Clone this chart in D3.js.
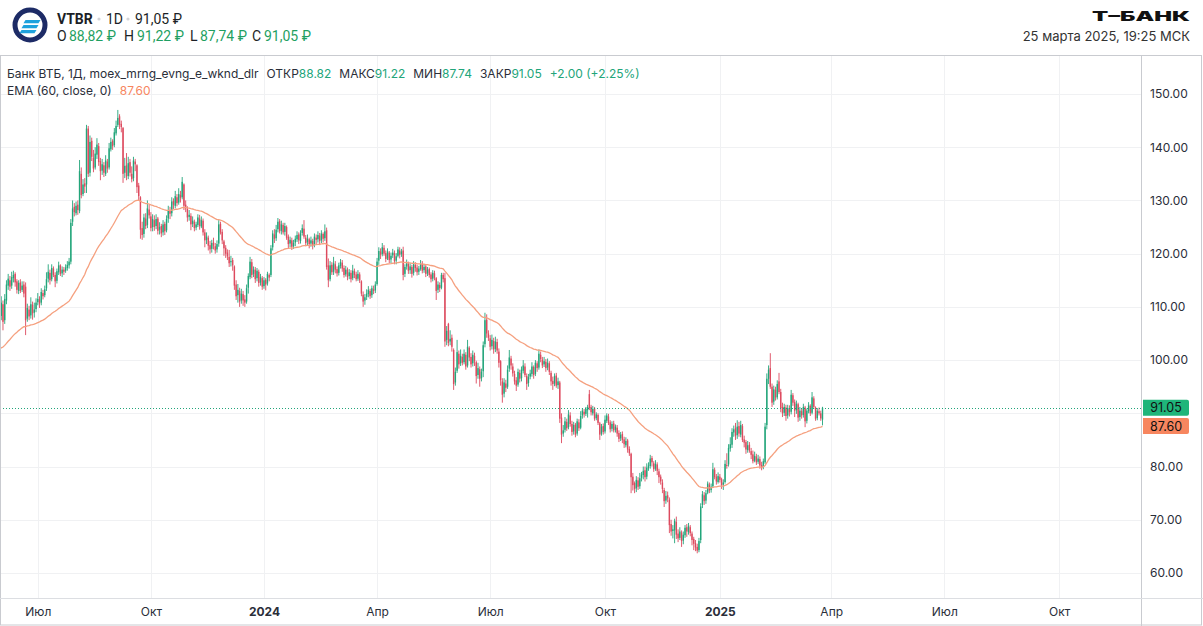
<!DOCTYPE html>
<html lang="ru">
<head>
<meta charset="utf-8">
<title>VTBR 1D</title>
<script src="https://cdn.jsdelivr.net/npm/d3@7"></script>
<style>
  body { margin: 0; background: #fff; }
  svg text { font-family: Inter, "Noto Sans", sans-serif; }
</style>
</head>
<body>
<svg id="chart" width="1203" height="626"></svg>
<script>
// ---- data: daily bars, Jun 2023 .. 25 Mar 2025 (weekdays) ----
const open = [
109.8,108.3,110.5,107.5,111.2,114.0,115.0,114.0,115.4,116.2,
114.8,113.0,114.6,113.2,114.2,113.8,107.8,109.5,108.4,110.4,
108.9,109.6,110.9,111.4,110.8,112.6,112.2,113.5,115.3,116.4,
115.2,117.2,116.0,114.9,116.5,117.8,116.3,117.0,116.8,117.3,
117.8,118.5,126.0,128.8,127.6,129.2,128.0,135.0,131.2,133.2,
133.0,143.5,135.2,141.2,138.0,136.2,138.6,140.2,137.4,135.6,
136.6,135.0,137.3,136.2,139.6,141.2,140.4,142.6,144.2,145.8,
144.4,143.6,135.2,136.6,134.6,137.2,135.0,134.2,137.3,136.6,
132.8,130.6,124.8,123.7,126.6,125.4,128.3,127.0,125.0,126.3,
125.2,126.6,124.5,125.2,124.0,125.6,124.4,126.6,128.0,127.6,
129.9,129.0,130.6,129.6,131.0,130.6,133.0,129.2,128.4,126.9,
127.1,125.6,126.0,124.9,125.4,126.6,125.1,126.2,124.0,122.6,
123.0,121.6,120.9,122.1,121.4,120.8,121.9,125.6,124.1,122.3,
121.1,120.2,119.4,118.4,118.8,117.6,114.2,112.2,113.0,111.2,
112.4,111.4,111.0,113.6,115.6,118.4,116.2,117.0,115.4,116.6,
114.6,115.4,113.9,115.1,114.4,116.0,116.0,121.2,123.6,122.9,
124.6,126.1,124.3,125.4,124.1,125.0,123.2,121.9,122.5,121.4,
122.1,122.7,123.6,122.4,123.9,124.7,123.0,122.2,122.7,121.9,
122.4,121.6,123.0,122.7,123.4,122.5,123.7,122.9,124.4,117.8,
115.2,117.9,116.6,118.0,117.1,116.4,117.7,118.3,117.3,116.1,
117.0,115.8,116.4,115.4,116.7,116.1,115.3,116.1,114.8,112.3,
111.2,111.9,112.4,113.0,112.2,113.3,113.1,114.3,118.7,120.4,
119.9,121.1,120.1,119.1,120.2,118.9,119.7,120.1,118.7,119.6,
120.6,119.9,120.6,116.2,117.6,118.1,116.9,117.5,116.4,117.9,
117.4,116.6,117.1,118.1,116.9,117.6,116.3,117.1,116.1,115.3,
116.3,115.4,113.2,114.1,113.6,116.0,115.4,103.8,106.8,103.5,
104.2,101.9,95.8,98.0,101.2,99.4,100.6,99.6,101.0,99.0,
102.3,100.6,99.4,100.8,99.6,97.2,98.3,96.6,97.9,103.0,
107.6,105.0,104.1,102.6,103.6,102.1,103.4,101.6,99.8,96.0,
93.7,95.6,95.0,98.4,100.3,98.8,97.4,96.2,95.4,97.6,
96.6,98.0,98.8,97.0,95.7,96.9,97.4,98.7,97.4,99.4,
98.6,101.0,100.1,99.2,99.7,98.6,99.4,97.6,96.1,95.6,
97.1,95.3,95.8,89.2,86.2,86.9,88.4,87.4,89.6,88.0,
86.6,87.9,86.2,88.3,87.3,89.6,90.3,89.9,90.6,93.6,
91.2,90.0,90.9,89.1,89.7,88.1,86.2,87.6,86.6,88.6,
89.4,88.3,87.1,88.1,86.9,87.3,86.3,85.3,86.1,85.1,
84.0,84.9,83.3,82.4,78.1,76.9,75.9,77.4,76.3,77.9,
78.4,79.3,78.1,79.7,80.1,81.6,80.6,79.6,80.4,79.1,
78.1,77.0,75.6,73.6,74.6,73.8,69.2,67.9,68.0,69.6,
67.4,66.6,67.6,66.1,67.1,68.6,67.7,68.6,67.4,66.4,
65.6,64.9,64.3,66.2,72.8,74.6,73.6,75.1,76.6,75.6,
76.3,79.4,78.1,77.1,78.1,77.6,76.6,77.1,80.3,80.4,
83.4,84.1,86.4,87.2,85.9,87.6,86.0,87.6,85.1,84.6,
83.1,84.1,82.9,82.3,81.1,81.9,80.9,81.4,80.3,79.9,
80.8,87.8,96.5,98.5,95.0,92.2,94.4,93.0,96.0,94.0,
91.2,90.1,91.1,89.6,90.9,90.3,93.4,92.1,90.6,91.7,
89.3,90.4,89.7,91.1,88.6,90.4,91.4,90.1,92.8,91.1,
89.1,90.4,90.0,88.82
];
const high = [
111.5,112.0,111.2,112.4,115.0,116.2,115.8,116.6,116.8,116.5,
115.2,115.0,115.2,114.8,114.8,114.6,110.6,110.2,111.8,111.0,
110.8,111.6,112.6,112.0,113.5,113.2,114.0,116.5,118.0,117.0,
118.0,117.6,116.5,117.2,118.5,118.0,117.6,117.5,118.0,118.6,
119.2,126.5,130.0,129.5,129.8,130.0,137.6,136.2,134.0,134.2,
144.2,144.0,142.2,141.8,139.5,140.0,141.7,140.8,138.0,137.8,
137.2,138.5,137.8,140.8,141.8,141.5,143.6,145.0,147.0,146.2,
145.0,143.8,138.0,138.9,138.2,137.8,136.4,138.2,137.8,136.8,
133.3,130.8,126.0,127.5,127.6,130.0,129.2,127.8,127.4,127.2,
127.4,126.9,125.9,125.6,126.3,126.0,127.2,129.0,128.8,130.6,
130.4,131.8,131.2,132.3,131.8,134.4,133.2,130.0,128.9,128.2,
127.6,127.0,126.4,126.0,127.4,127.3,127.0,126.6,124.6,124.0,
123.4,122.4,122.6,123.0,122.0,122.5,126.3,126.0,124.6,122.6,
121.6,120.8,120.7,119.6,119.2,117.8,115.0,114.3,113.6,113.4,
113.0,112.2,114.2,116.3,119.4,119.0,117.6,117.5,117.3,117.0,
116.2,115.8,115.6,115.4,116.6,116.3,121.6,124.4,124.6,125.4,
126.7,126.5,126.2,125.8,125.8,125.3,123.6,123.2,123.0,122.6,
123.4,124.2,124.0,124.4,125.5,126.3,123.5,123.6,123.0,123.2,
122.8,123.8,123.6,124.2,123.9,124.4,124.0,125.5,124.9,119.1,
118.6,118.4,119.4,118.6,117.6,118.3,119.0,118.8,117.8,117.7,
117.4,117.1,116.9,117.9,117.2,116.6,116.9,116.5,115.0,112.9,
112.4,113.3,113.9,113.4,114.0,114.0,114.8,119.2,121.2,121.0,
122.0,121.6,120.6,121.0,120.5,120.2,120.9,120.6,120.1,121.3,
121.2,120.9,121.3,118.0,118.9,118.5,118.2,117.9,118.6,118.4,
117.9,117.7,118.8,118.6,118.0,117.9,117.5,117.4,116.5,116.9,
116.8,115.6,114.8,114.6,116.4,116.4,116.4,106.4,107.0,105.6,
104.8,102.2,98.6,103.8,101.8,102.0,101.2,102.0,101.5,103.8,
102.6,101.3,101.8,101.4,99.9,99.5,98.8,98.4,103.5,108.9,
108.6,105.6,104.7,104.8,104.2,104.4,104.0,102.2,100.0,96.6,
96.6,96.3,99.0,101.9,100.8,99.4,98.0,96.8,98.4,98.2,
98.8,100.0,99.4,97.5,97.4,98.2,99.6,99.0,100.0,99.8,
102.0,101.6,100.6,100.6,100.2,100.3,99.8,98.0,96.9,97.5,
97.6,96.7,96.1,90.0,87.8,89.3,89.0,90.6,90.2,88.6,
88.4,88.2,89.0,88.9,90.4,91.0,90.8,91.2,91.6,94.4,
91.6,91.4,91.2,90.2,90.0,88.4,88.0,88.1,89.6,90.0,
89.9,88.7,88.5,88.6,87.9,87.8,86.8,86.5,86.6,85.6,
85.5,85.2,83.8,82.6,78.8,77.2,78.2,78.0,78.8,79.0,
80.0,80.0,80.6,80.8,82.2,82.0,81.0,81.2,80.8,79.6,
78.5,77.6,76.0,75.4,75.3,74.2,70.0,69.0,70.2,70.6,
68.2,68.6,68.0,67.8,69.0,69.2,69.4,69.0,67.8,66.8,
66.2,65.5,66.6,73.1,75.4,75.2,75.6,77.2,77.0,76.8,
80.7,79.8,78.6,78.9,78.6,77.9,77.6,81.2,82.5,84.2,
85.5,87.2,87.7,88.2,88.7,88.4,88.6,88.0,85.8,85.0,
84.8,84.6,83.5,83.0,82.8,82.4,82.2,81.9,80.9,81.5,
88.2,97.5,99.0,101.3,95.6,95.2,95.0,96.2,97.6,94.6,
92.0,91.8,91.6,91.6,91.5,94.4,93.8,92.6,92.4,92.0,
91.2,91.0,91.8,91.4,90.9,92.1,91.7,94.0,93.2,91.3,
91.0,91.1,90.5,91.22
];
const low = [
106.0,107.5,105.6,106.8,110.5,113.2,113.0,113.4,114.6,113.8,
112.5,112.4,112.6,112.8,111.8,104.7,107.2,107.5,107.8,107.6,
108.0,109.0,110.3,109.8,110.3,111.4,111.8,113.0,114.6,114.2,
114.8,115.6,113.7,114.4,116.0,115.8,115.6,116.0,116.4,116.8,
117.2,118.0,125.2,127.0,127.2,127.3,127.6,130.4,130.8,131.4,
131.4,134.4,134.5,137.4,135.3,135.8,137.8,136.5,133.8,134.8,
134.4,134.6,135.2,135.8,139.2,139.5,140.0,142.2,143.8,143.4,
142.8,133.3,134.2,133.8,134.0,134.5,133.4,133.6,135.5,131.4,
130.0,122.8,122.6,123.0,124.6,124.8,126.6,124.2,124.2,124.3,
124.6,123.6,123.6,123.1,123.4,123.5,124.0,125.8,126.5,127.0,
128.4,128.5,128.9,129.2,129.6,130.2,128.2,127.8,126.0,126.2,
124.4,125.0,124.2,124.4,125.0,124.5,124.8,123.4,121.2,121.8,
120.6,120.0,120.2,120.8,120.0,120.2,121.3,123.6,121.8,119.6,
119.2,118.8,117.5,117.6,116.8,113.2,111.3,110.8,110.0,110.6,
110.2,110.0,110.6,112.5,115.2,115.4,115.6,114.5,114.8,113.8,
114.0,113.2,113.4,113.1,114.0,114.8,115.6,120.6,122.0,122.4,
124.0,123.8,123.6,123.6,123.4,122.6,121.0,121.2,120.7,120.9,
121.4,122.2,121.8,121.9,123.4,122.8,121.4,121.6,121.0,121.3,
120.8,121.2,121.8,122.1,121.6,122.0,122.1,122.4,117.0,113.7,
114.8,116.0,116.0,116.3,115.7,115.9,117.2,116.6,115.5,115.7,
115.0,115.2,114.6,115.0,115.4,114.8,114.9,114.5,112.0,110.0,
110.4,111.3,111.8,111.5,111.7,112.4,112.6,114.0,117.9,119.0,
119.5,119.6,118.4,118.8,118.2,118.2,119.2,118.0,118.0,119.3,
119.1,119.4,115.0,115.6,117.0,116.2,116.2,115.5,115.9,116.6,
115.9,116.0,116.8,116.3,116.4,115.6,115.8,115.5,114.6,114.8,
115.0,111.3,112.6,112.8,113.3,114.6,102.5,102.8,102.6,102.8,
101.6,94.4,95.2,97.6,98.4,98.9,99.0,99.2,98.2,98.6,
99.8,98.6,98.8,98.9,95.6,96.5,95.0,96.0,96.8,102.4,
104.2,103.6,101.8,102.0,101.2,101.5,101.2,98.6,95.2,92.0,
93.0,94.0,94.6,97.8,98.2,96.9,95.4,94.2,95.0,95.8,
96.0,97.5,96.8,94.4,95.0,96.4,96.9,96.5,97.0,97.8,
98.2,99.6,98.5,98.7,97.8,98.1,97.2,95.2,94.4,95.1,
94.8,94.6,88.2,84.4,85.6,86.4,86.7,87.0,87.5,85.8,
86.0,85.5,85.8,86.7,87.0,89.0,89.2,89.5,89.2,90.6,
89.6,89.6,88.6,88.7,87.8,85.0,85.8,86.0,86.2,88.2,
87.8,86.4,86.6,86.4,86.4,85.6,84.6,84.8,84.4,83.5,
83.6,82.6,82.0,75.0,75.5,75.0,75.2,75.6,75.8,77.2,
77.6,77.2,77.6,79.2,79.6,80.0,79.0,79.2,78.4,76.9,
76.6,75.0,72.4,73.0,73.3,67.5,67.0,66.5,65.6,66.4,
65.8,66.2,64.9,65.4,66.6,66.8,67.2,66.9,65.2,64.3,
64.1,63.7,63.9,65.6,72.2,72.8,73.0,74.8,75.0,75.1,
76.0,77.6,76.6,76.8,77.0,75.8,75.6,76.8,79.6,80.0,
82.8,83.5,85.6,85.0,85.2,85.6,85.5,84.6,83.6,82.4,
82.6,82.6,81.4,80.6,80.8,80.3,80.5,79.6,79.3,79.5,
80.5,87.0,95.5,94.6,91.2,91.6,92.4,92.6,93.6,90.2,
89.3,89.5,88.6,89.0,89.4,89.8,91.4,89.3,89.9,88.4,
88.6,89.0,89.2,87.4,88.1,90.0,89.5,89.8,90.8,88.6,
88.7,89.6,88.6,87.74
];
const close = [
108.5,110.8,107.2,111.5,114.2,115.3,113.8,115.6,116.0,114.6,
113.2,114.5,113.0,114.0,112.5,107.5,109.8,108.2,110.5,108.8,
109.5,110.8,111.5,110.6,112.8,112.0,113.3,115.2,116.6,115.0,
117.3,116.0,114.8,116.7,117.8,116.2,117.0,116.6,117.4,117.9,
118.5,125.8,128.5,127.8,129.0,128.2,135.5,131.0,133.0,132.6,
143.5,135.0,141.0,138.2,136.0,138.8,140.5,137.2,135.5,136.8,
135.2,137.5,136.0,139.8,141.0,140.2,142.8,144.0,145.5,144.2,
143.8,135.0,136.5,134.5,137.0,135.2,134.0,137.5,136.8,132.5,
130.8,124.5,123.5,126.8,125.2,128.5,127.2,124.8,126.5,125.0,
126.5,124.3,125.0,123.8,125.5,124.2,126.5,128.2,127.5,129.8,
129.2,130.8,129.5,131.2,130.5,133.5,129.0,128.5,126.8,127.3,
125.5,126.2,124.8,125.5,126.8,125.2,126.3,124.0,122.5,123.2,
121.5,120.8,122.0,121.5,120.6,121.8,125.5,124.0,122.5,121.0,
120.0,119.5,118.2,118.6,117.8,114.0,112.0,113.2,111.0,112.5,
111.2,110.8,113.5,115.8,118.5,116.0,117.0,115.2,116.8,114.5,
115.6,113.8,115.0,114.2,116.2,115.5,121.0,123.8,122.8,124.5,
126.0,124.2,125.5,124.0,125.2,123.0,121.8,122.6,121.3,122.0,
122.8,123.5,122.5,123.8,124.8,123.2,122.0,122.8,121.8,122.5,
121.5,123.2,122.6,123.5,122.4,123.8,122.8,124.2,117.5,115.0,
117.8,116.5,118.2,117.0,116.3,117.8,118.4,117.2,116.0,117.0,
115.6,116.5,115.2,116.8,116.0,115.2,116.2,115.0,112.5,111.0,
111.8,112.5,113.2,112.0,113.5,113.0,114.2,118.5,120.5,119.8,
121.2,120.0,119.0,120.4,118.8,119.6,120.2,118.6,119.5,120.8,
119.8,120.4,116.0,117.5,118.2,116.8,117.6,116.2,118.0,117.3,
116.5,117.2,118.0,116.8,117.5,116.2,117.0,116.0,115.2,116.4,
115.5,113.0,114.2,113.5,116.0,115.2,103.5,105.5,103.2,104.0,
102.5,95.5,97.8,101.5,99.2,100.8,99.5,101.2,98.8,102.5,
100.5,99.2,101.0,99.8,97.0,98.5,96.5,97.8,102.8,107.5,
105.0,104.2,102.5,103.8,102.0,103.5,101.8,99.5,96.2,93.5,
95.8,94.8,98.2,100.5,99.0,97.5,96.0,95.2,97.8,96.5,
98.2,99.0,97.2,95.5,96.8,97.5,98.8,97.2,99.5,98.5,
101.2,100.2,99.0,99.8,98.5,99.5,97.8,96.0,95.5,97.0,
95.2,96.0,89.0,86.0,86.8,88.5,87.2,89.8,88.0,86.5,
87.8,86.0,88.5,87.2,89.5,90.5,89.8,90.8,91.2,91.0,
90.2,90.8,89.0,89.8,88.2,86.0,87.5,86.5,88.8,89.6,
88.2,87.0,88.0,86.8,87.5,86.2,85.2,86.0,85.0,84.2,
84.8,83.2,82.5,78.0,76.5,75.8,77.5,76.2,77.8,78.5,
79.2,78.0,79.8,80.2,81.5,80.8,79.5,80.5,79.2,78.0,
77.2,75.8,73.5,74.5,74.0,69.0,67.8,68.2,69.8,67.2,
66.5,67.8,66.0,67.2,68.5,67.8,68.8,67.5,66.2,65.5,
64.8,64.2,66.0,72.5,74.8,73.5,75.0,76.8,75.5,76.2,
79.5,78.0,77.2,78.2,77.5,76.5,77.0,80.5,80.2,83.5,
84.2,86.5,87.0,85.8,87.5,86.2,87.8,85.0,84.5,83.2,
84.0,83.0,82.2,81.0,82.0,80.8,81.5,80.2,79.8,81.0,
87.5,96.5,98.2,95.0,92.0,94.5,93.0,95.5,94.0,91.0,
90.0,91.2,89.5,91.0,90.2,93.5,92.0,90.5,91.8,89.2,
90.5,89.6,91.2,88.5,90.5,91.5,90.0,93.0,91.2,89.0,
90.5,90.0,89.05,91.05
];

const emaPeriod = 60;
const emaSeed = 101.8;        // EMA value just before the first visible bar
const emaLast = 87.60;
const lastClose = 91.05;

// 90.00 sits under the last-price tag in the original, so it is not listed
const priceTicks = [60, 70, 80, 100, 110, 120, 130, 140, 150];
const gridTicks = [60, 70, 80, 90, 100, 110, 120, 130, 140, 150];
const timeTickDates = ["2023-07-03", "2023-10-02", "2024-01-01", "2024-04-01", "2024-07-01",
                       "2024-10-01", "2025-01-01", "2025-04-01", "2025-07-01", "2025-10-01"];
const timeTickLabels = ["Июл", "Окт", "2024", "Апр", "Июл", "Окт", "2025", "Апр", "Июл", "Окт"];

// ---- layout ----
const up = "#22a57a", down = "#dd4a5e", emaColor = "#f5a07f", emaTag = "#f7865f";
const textColor = "#2a2e39";
const plot = {left: 0, right: 1141, top: 55, bottom: 598};

const svg = d3.select("#chart");
const N = close.length;

const allDays = d3.timeDay.range(new Date(2023, 5, 1), new Date(2026, 0, 1))
  .filter(d => d.getDay() !== 0 && d.getDay() !== 6);
const parse = d3.timeParse("%Y-%m-%d");
const tickIdx = timeTickDates.map(s => allDays.findIndex(d => d >= parse(s)));

const x = d3.scaleLinear().domain([0, N - 1]).range([-0.5, 822.5]);
const y = d3.scaleLinear().domain([60, 150]).range([573, 94]);

svg.append("defs").append("clipPath").attr("id", "plotClip")
  .append("rect").attr("x", plot.left).attr("y", plot.top)
  .attr("width", plot.right - plot.left).attr("height", plot.bottom - plot.top);

// grid
const grid = svg.append("g");
grid.selectAll("line.h").data(gridTicks).join("line")
  .attr("x1", plot.left).attr("x2", plot.right)
  .attr("y1", d => Math.round(y(d)) + 0.5).attr("y2", d => Math.round(y(d)) + 0.5)
  .attr("stroke", "#f0f1f3");
grid.selectAll("line.v").data(tickIdx).join("line")
  .attr("x1", d => Math.round(x(d)) + 0.5).attr("x2", d => Math.round(x(d)) + 0.5)
  .attr("y1", plot.top).attr("y2", plot.bottom)
  .attr("stroke", "#f0f1f3");

// candles
const bars = d3.range(N).map(i => ({i, o: open[i], h: high[i], l: low[i], c: close[i]}));
const cg = svg.append("g").attr("clip-path", "url(#plotClip)");
cg.selectAll("line.wick").data(bars).join("line")
  .attr("x1", d => x(d.i)).attr("x2", d => x(d.i))
  .attr("y1", d => y(Math.max(d.h, d.o, d.c)))
  .attr("y2", d => y(Math.min(d.l, d.o, d.c)))
  .attr("stroke", d => d.c >= d.o ? up : down)
  .attr("stroke-width", 0.9);
cg.selectAll("rect.body").data(bars).join("rect")
  .attr("x", d => x(d.i) - 0.7).attr("width", 1.4)
  .attr("y", d => y(Math.max(d.o, d.c)))
  .attr("height", d => Math.max(1, Math.abs(y(d.o) - y(d.c))))
  .attr("fill", d => d.c >= d.o ? up : down);

// EMA(60, close)
const k = 2 / (emaPeriod + 1);
let e = emaSeed;
const ema = close.map(c => (e = e + k * (c - e)));
cg.append("path")
  .datum(ema)
  .attr("fill", "none")
  .attr("stroke", emaColor)
  .attr("stroke-width", 1.3)
  .attr("d", d3.line().x((d, i) => x(i)).y(d => y(d)));

// last price line
svg.append("line")
  .attr("x1", plot.left).attr("x2", plot.right)
  .attr("y1", Math.round(y(lastClose)) + 0.5).attr("y2", Math.round(y(lastClose)) + 0.5)
  .attr("stroke", up).attr("stroke-dasharray", "1,2");

// frame
svg.append("rect").attr("x", 0.5).attr("y", plot.top + 0.5)
  .attr("width", 1201).attr("height", 569.5)
  .attr("fill", "none").attr("stroke", "#c9cbd0");
svg.append("line").attr("x1", plot.right + 0.5).attr("x2", plot.right + 0.5)
  .attr("y1", plot.top).attr("y2", 626).attr("stroke", "#c9cbd0");
svg.append("line").attr("x1", 0).attr("x2", 1203)
  .attr("y1", plot.bottom + 0.5).attr("y2", plot.bottom + 0.5).attr("stroke", "#dcdee2");

// price axis
const ya = svg.append("g").attr("transform", "translate(1150,0)")
  .call(d3.axisRight(y).tickValues(priceTicks).tickSize(0).tickPadding(0)
    .tickFormat(d3.format(".2f")));
ya.select(".domain").remove();
ya.selectAll("text").attr("font-size", 12).attr("fill", textColor)
  .style("font-family", "Inter, sans-serif");

// time axis
const xa = svg.append("g").attr("transform", `translate(0,${plot.bottom})`)
  .call(d3.axisBottom(x).tickValues(tickIdx).tickSize(0).tickPadding(9)
    .tickFormat((d, i) => timeTickLabels[i]));
xa.select(".domain").remove();
xa.selectAll("text").attr("font-size", 12).attr("fill", textColor)
  .attr("font-weight", (d, i) => /^\d+$/.test(timeTickLabels[i]) ? 700 : 400)
  .style("font-family", "Inter, sans-serif");

// price tags
function tag(v, fill, ty) {
  const g = svg.append("g");
  g.append("path")
    .attr("d", `M1143,${ty - 8} h44 a2,2 0 0 1 2,2 v12 a2,2 0 0 1 -2,2 h-44 z`)
    .attr("fill", fill);
  g.append("text").attr("x", 1166).attr("y", ty + 4.5)
    .attr("text-anchor", "middle").attr("font-size", 12.5).attr("fill", "#111")
    .text(d3.format(".2f")(v));
}
tag(lastClose, "#1fb57a", y(lastClose));
tag(emaLast, emaTag, y(emaLast));

// legend inside plot
const leg = svg.append("text").attr("x", 7).attr("y", 78)
  .attr("font-size", 12).attr("fill", textColor);
leg.append("tspan").text("Банк ВТБ, 1Д, moex_mrng_evng_e_wknd_dlr");
[["ОТКР", "88.82"], ["МАКС", "91.22"], ["МИН", "87.74"], ["ЗАКР", "91.05"]].forEach(([a, b]) => {
  leg.append("tspan").attr("dx", 8).text(a);
  leg.append("tspan").attr("fill", up).text(b);
});
leg.append("tspan").attr("dx", 8).attr("fill", up).text("+2.00 (+2.25%)");

const leg2 = svg.append("text").attr("x", 7).attr("y", 95)
  .attr("font-size", 12).attr("fill", textColor);
leg2.append("tspan").text("EMA (60, close, 0)");
leg2.append("tspan").attr("dx", 8).attr("fill", emaTag).text(emaLast.toFixed(2));

// header: logo
const logo = svg.append("g");
logo.append("circle").attr("cx", 30).attr("cy", 25).attr("r", 15)
  .attr("fill", "#fff").attr("stroke", "#1d2b66").attr("stroke-width", 5);
[[20, 23.5], [25, 21.5], [30, 19.5]].forEach(([sy, sx]) => {
  logo.append("path")
    .attr("d", `M${sx + 2},${sy} h15 l-2,3.2 h-15 z`)
    .attr("fill", "#1ea2dd");
});

// header texts
const h1 = svg.append("text").attr("y", 24).attr("font-size", 14).attr("fill", "#1c1f26")
  .style("font-family", "Roboto, sans-serif");
h1.append("tspan").attr("x", 57).attr("font-weight", 700).text("VTBR");
h1.append("tspan").attr("x", 106).text("1D");
h1.append("tspan").attr("x", 135).text("91,05 ₽");
svg.selectAll("circle.sep").data([99, 128]).join("circle")
  .attr("cx", d => d).attr("cy", 19).attr("r", 1.6).attr("fill", "#d3d5d9");

const h2 = svg.append("text").attr("y", 41).attr("font-size", 14).attr("fill", "#1c1f26")
  .style("font-family", "Roboto, sans-serif");
[["O", 57, "88,82 ₽", 69], ["H", 124, "91,22 ₽", 137], ["L", 190, "87,74 ₽", 200], ["C", 252, "91,05 ₽", 264]]
  .forEach(([a, ax, b, bx]) => {
    h2.append("tspan").attr("x", ax).text(a);
    h2.append("tspan").attr("x", bx).attr("fill", "#1f9f62").text(b);
  });

svg.append("text").attr("x", 1190).attr("y", 21).attr("text-anchor", "end")
  .attr("font-size", 13).attr("font-weight", 900).attr("fill", "#111")
  .attr("textLength", 98).attr("lengthAdjust", "spacingAndGlyphs")
  .text("Т–БАНК");
svg.append("text").attr("x", 1190).attr("y", 41).attr("text-anchor", "end")
  .attr("font-size", 13).attr("fill", "#333")
  .text("25 марта 2025, 19:25 МСК");
</script>
</body>
</html>
